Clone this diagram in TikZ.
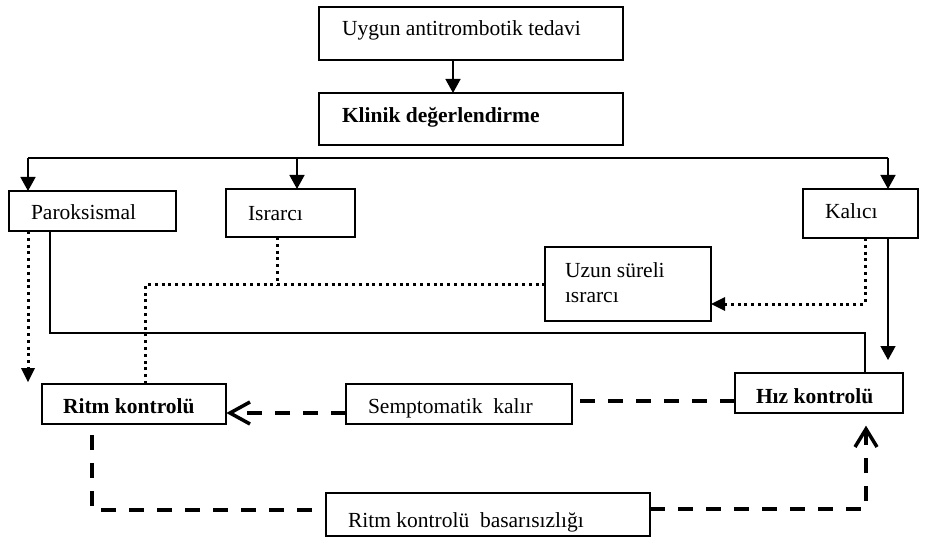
\documentclass[tikz,border=0pt]{standalone}
\usepackage{fontspec}
\setmainfont{Liberation Serif}
\usetikzlibrary{arrows.meta,fit}
\begin{document}
\begin{tikzpicture}[x=1pt,y=-1pt,
  box/.style={draw=black,line width=1.3pt,inner sep=0pt,outer sep=0pt},
  lbl/.style={inner sep=0pt,outer sep=0pt,anchor=base west,font=\fontsize{21.5}{25}\selectfont},
  blbl/.style={lbl,font=\fontsize{21.5}{25}\selectfont\bfseries},
  solidline/.style={draw=black,line width=1.5pt},
  dotline/.style={draw=black,line width=3pt,dash pattern=on 3pt off 3.8pt},
  dashline/.style={draw=black,line width=4pt,dash pattern=on 15pt off 13pt},
  filltip/.style={-{Triangle[width=15pt,length=14pt]}},
  barb/.style={draw=black,line width=3.5pt,line cap=butt,line join=miter}
]
\useasboundingbox (0,0) rectangle (926,537);
% boxes
\node[box,fit={(319,7)(623,60)}] (top) {};
\node[box,fit={(319,93)(623,145)}] (klinik) {};
\node[box,fit={(9,191)(176,231)}] (parok) {};
\node[box,fit={(226,189)(355,237)}] (israr) {};
\node[box,fit={(803,189)(918,238)}] (kalici) {};
\node[box,fit={(545,247)(711,321)}] (uzun) {};
\node[box,fit={(42,384)(226,424)}] (ritm) {};
\node[box,fit={(346,384)(572,424)}] (semp) {};
\node[box,fit={(735,373)(903,413)}] (hiz) {};
\node[box,fit={(326,493)(650,536)}] (basar) {};
% labels
\node[lbl] (ttop) at (342,36) {Uygun antitrombotik tedavi};
\node[blbl] (tklinik) at (342,123) {Klinik değerlendirme};
\node[lbl] (tparok) at (31,220) {Paroksismal};
\node[lbl] (tisrar) at (248,221) {Israrcı};
\node[lbl] (tkalici) at (825,219) {Kalıcı};
\node[lbl] (tuzun1) at (565,277) {Uzun süreli};
\node[lbl] (tuzun2) at (565,302) {ısrarcı};
\node[blbl] (tritm) at (63,413) {Ritm kontrolü};
\node[lbl] (tsemp) at (368,413) {Semptomatik\ \ kalır};
\node[blbl] (thiz) at (756,403) {Hız kontrolü};
\node[lbl] (tbasar) at (348,527) {Ritm kontrolü\ \ basarısızlığı};
% coordinates
\coordinate (hl) at (28,158);
\coordinate (hm) at (297,158);
\coordinate (hr) at (888,158);
\coordinate (pdot) at (28,382);
\coordinate (hizarr) at (888,360);
\coordinate (bl) at (92,510);
\coordinate (br) at (866,509);
\coordinate (uparr) at (866,429);
\coordinate (p1) at (50,333);
\coordinate (p2) at (865,333);
\coordinate (i1) at (277,285);
\coordinate (i2) at (145,285);
\coordinate (k1) at (865,304);
\coordinate (ltip) at (230,413);
% solid connectors
\draw[solidline,filltip] (top.south -| 453,0) -- (klinik.north -| 453,0);
\draw[solidline] (hl) -- (hr);
\draw[solidline,filltip] (hl) -- (hl |- parok.north);
\draw[solidline,filltip] (hm) -- (hm |- israr.north);
\draw[solidline,filltip] (hr) -- (hr |- kalici.north);
\draw[solidline,filltip] (hr |- kalici.south) -- (hizarr);
\draw[solidline] (p1 |- parok.south) -- (p1) -- (p2) -- (p2 |- hiz.north);
% dotted connectors
\draw[dotline] (pdot |- parok.south) -- ([yshift=10pt]pdot);
\path[fill=black] (pdot) -- ++(-7,-14) -- ++(14,0) -- cycle;
\draw[dotline] (i1 |- israr.south) -- (i1);
\draw[dotline] (i2 |- ritm.north) -- (i2) -- (i2 -| uzun.west);
\draw[dotline] (k1 |- kalici.south) -- (k1) -- ([xshift=12pt]k1 -| uzun.east);
\path[fill=black] (k1 -| uzun.east) -- ++(14,-7) -- ++(0,14) -- cycle;
% dashed connectors
\draw[dashline] (hiz.west |- 0,401) -- (semp.east |- 0,401);
\draw[dashline] (semp.west |- 0,413) -- ([xshift=3pt]ltip);
\draw[barb] ([shift={(20,-11)}]ltip) -- (ltip) -- ([shift={(20,11)}]ltip);
\draw[dashline] (bl |- 0,435) -- (bl) -- (bl -| basar.west);
\draw[dashline] (br -| basar.east) -- (br) -- ([yshift=-3pt]uparr);
\draw[barb] ([shift={(-11,18)}]uparr) -- (uparr) -- ([shift={(11,18)}]uparr);
\end{tikzpicture}
\end{document}
